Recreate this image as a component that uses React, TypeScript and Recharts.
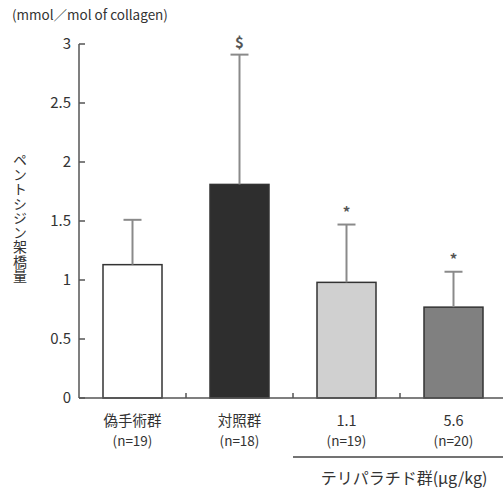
import { Bar, BarChart, Cell, Customized, XAxis, YAxis } from 'recharts'

// pentosidine cross-links per group
const groups = ['偽手術群', '対照群', '1.1', '5.6']
const counts = ['(n=19)', '(n=18)', '(n=19)', '(n=20)']
const means = [1.13, 1.81, 0.98, 0.77]
const sds = [0.38, 1.1, 0.49, 0.3]
const marks = ['', '$', '*', '*']
const fills = ['#ffffff', '#2e2e2e', '#d0d0d0', '#808080']
const yTicks = [0, 0.5, 1, 1.5, 2, 2.5, 3]

const data = groups.map((g, i) => ({
  group: g,
  n: counts[i],
  mean: means[i],
  sd: sds[i],
  mark: marks[i],
}))

const W = 510
const H = 489
const LEFT = 79
const TOP = 44
const RIGHT = 3
const BOTTOM = 91
const PLOT_W = W - LEFT - RIGHT
const BAND = PLOT_W / groups.length
const FONT = '"Noto Sans CJK JP", "Noto Sans", sans-serif'
const AXIS = '#555'
const TEXT = '#333'

function MeanBar(props: any) {
  const { x, y, width, height, payload, fill } = props
  // px per unit, taken from the bar itself
  const k = height / payload.mean
  const top = y - payload.sd * k
  const cx = x + width / 2
  return (
    <g>
      <rect x={x} y={y} width={width} height={height} fill={fill} stroke="#333" strokeWidth={1.5} />
      <line x1={cx} x2={cx} y1={y} y2={top} stroke="#8a8a8a" strokeWidth={2} />
      <line x1={cx - 9} x2={cx + 9} y1={top} y2={top} stroke="#8a8a8a" strokeWidth={2} />
      {payload.mark && (
        <text
          x={cx}
          y={top - 7}
          textAnchor="middle"
          fontSize={15}
          fontWeight="bold"
          fill="#555"
          fontFamily={FONT}
        >
          {payload.mark}
        </text>
      )}
    </g>
  )
}

function YTick({ x, y, payload }: any) {
  return (
    <g>
      <line x1={x} x2={x + 6} y1={y} y2={y} stroke={AXIS} strokeWidth={1.5} />
      <text x={x - 8} y={y} dy={5} textAnchor="end" fontSize={15} fill={TEXT} fontFamily={FONT}>
        {payload.value}
      </text>
    </g>
  )
}

function XTick({ x, y, payload, index }: any) {
  const row = data[index]
  const bx = x + BAND / 2
  return (
    <g>
      {index < groups.length - 1 && (
        <line x1={bx} x2={bx} y1={y} y2={y - 5} stroke={AXIS} strokeWidth={1.5} />
      )}
      <text x={x} y={y + 28} textAnchor="middle" fontSize={14.5} fill={TEXT} fontFamily={FONT}>
        {payload.value}
      </text>
      <text x={x} y={y + 48} textAnchor="middle" fontSize={13.5} fill={TEXT} fontFamily={FONT}>
        {row ? row.n : ''}
      </text>
    </g>
  )
}

function Decorations() {
  const bracketX = LEFT + BAND * 2
  return (
    <g fontFamily={FONT} fill={TEXT}>
      <text x={12} y={20} fontSize={13.5}>
        (mmol／mol of collagen)
      </text>
      <text
        x={20}
        y={218}
        textAnchor="middle"
        fontSize={14}
        style={{ writingMode: 'vertical-rl', letterSpacing: 0.5 }}
      >
        ペントシジン架橋量
      </text>
      <line x1={bracketX} x2={W} y1={457} y2={457} stroke="#444" strokeWidth={1.5} />
      <text x={404} y={484} textAnchor="middle" fontSize={16}>
        テリパラチド群(μg/kg)
      </text>
    </g>
  )
}

export default function App() {
  return (
    <div style={{ position: 'absolute', left: 0, top: 0, width: 503, height: H, overflow: 'hidden', background: '#fff' }}>
      <BarChart
        width={W}
        height={H}
        data={data}
        margin={{ top: TOP, right: RIGHT, left: LEFT - 1, bottom: BOTTOM - 1 }}
        barCategoryGap={24}
      >
        <XAxis
          dataKey="group"
          height={1}
          tickLine={false}
          tickSize={0}
          tickMargin={0}
          interval={0}
          stroke={AXIS}
          strokeWidth={1.5}
          tick={<XTick />}
        />
        <YAxis
          width={1}
          domain={[0, 3]}
          ticks={yTicks}
          tickLine={false}
          tickSize={0}
          tickMargin={0}
          stroke={AXIS}
          strokeWidth={1.5}
          tick={<YTick />}
        />
        <Bar dataKey="mean" shape={<MeanBar />} isAnimationActive={false}>
          {data.map((d, i) => (
            <Cell key={d.group} fill={fills[i]} />
          ))}
        </Bar>
        <Customized component={<Decorations />} />
      </BarChart>
    </div>
  )
}
